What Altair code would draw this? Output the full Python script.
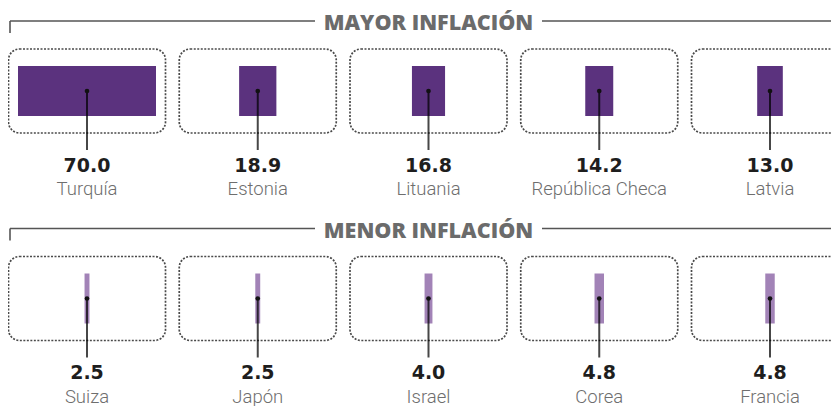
import altair as alt
import pandas as pd

# ---- data ----
groups = ["MAYOR INFLACIÓN", "MENOR INFLACIÓN"]
top_countries = ["Turquía", "Estonia", "Lituania", "República Checa", "Latvia"]
top_values = [70.0, 18.9, 16.8, 14.2, 13.0]
low_countries = ["Suiza", "Japón", "Israel", "Corea", "Francia"]
low_values = [2.5, 2.5, 4.0, 4.8, 4.8]

rows = []
for r, (names, vals) in enumerate([(top_countries, top_values), (low_countries, low_values)]):
    for i, (n, v) in enumerate(zip(names, vals)):
        rows.append({"row": r, "slot": i, "pais": n, "valor": v, "grupo": groups[r],
                     "etiqueta": f"{v:.1f}"})
df = pd.DataFrame(rows)
hdr = pd.DataFrame({"row": [0, 1], "grupo": groups, "slot": [2, 2]})

# ---- layout ----
W, H = 823, 398
PITCH = 170.75      # px between panel centres
X0 = 79.0           # px of first panel centre
Y0 = 83.0           # px of first row centre
ROWGAP = 207.5      # px between rows
HALF_PX_PER_PCT = 0.9857
S = HALF_PX_PER_PCT / PITCH

xs = alt.Scale(domain=[-X0 / PITCH, (W - X0) / PITCH], nice=False, zero=False)
ys = alt.Scale(domain=[-Y0 / ROWGAP, (H - Y0) / ROWGAP], nice=False, zero=False, reverse=True)

X = alt.X("slot:Q", scale=xs, axis=None)
Y = alt.Y("row:Q", scale=ys, axis=None)

base = alt.Chart(df)

boxes = base.mark_rect(filled=False, stroke="#4a4a4a", strokeWidth=1.7, strokeDash=[2, 1.5],
                       cornerRadius=11, xOffset=-78.5, x2Offset=78.5, yOffset=-42, y2Offset=42).encode(
    x=X, x2="slot:Q", y=Y, y2="row:Q")

bars = base.transform_calculate(
    lo=f"datum.slot - datum.valor * {S}", hi=f"datum.slot + datum.valor * {S}"
).mark_rect(yOffset=-25, y2Offset=25).encode(
    x=alt.X("lo:Q", scale=xs, axis=None), x2="hi:Q", y=Y, y2="row:Q",
    color=alt.Color("grupo:N", scale=alt.Scale(domain=groups, range=["#5b327e", "#a283b7"]), legend=None))

stems = base.mark_rule(color="black", opacity=0.72, strokeWidth=2, y2Offset=59).encode(
    x=X, y=Y, y2="row:Q")

dots = base.mark_point(filled=True, color="#111111", size=22, opacity=1).encode(x=X, y=Y)

vals = base.mark_text(font="DejaVu Sans", fontWeight="bold", fontSize=19, color="#1e1e1e",
                      baseline="alphabetic", dy=80.5).encode(x=X, y=Y, text="etiqueta:N")

names = base.mark_text(font="Roboto", fontWeight=300, fontSize=18.5, color="#6e6e6e",
                       baseline="alphabetic", dy=104).encode(x=X, y=Y, text="pais:N")

hbase = alt.Chart(hdr)
htext = hbase.mark_text(font="Open Sans", fontWeight=800, fontSize=21.5, color="#6b6b6b",
                        baseline="alphabetic", dy=-61).encode(x=X, y=Y, text="grupo:N")
hleft = hbase.mark_rule(color="#555555", strokeWidth=1.6, yOffset=-70).encode(
    x=alt.value(2), x2=alt.value(307), y=Y)
hright = hbase.mark_rule(color="#555555", strokeWidth=1.6, yOffset=-70).encode(
    x=alt.value(534), x2=alt.value(W), y=Y)
htick = hbase.mark_rule(color="#555555", strokeWidth=1.6, yOffset=-70, y2Offset=-58).encode(
    x=alt.value(2), y=Y, y2="row:Q")

chart = alt.layer(boxes, bars, stems, dots, vals, names, htext, hleft, hright, htick).properties(
    width=W, height=H, padding=0, autosize="none"
).configure_view(stroke=None)

chart.save("out.html", embed_options={"renderer": "svg", "actions": False})
